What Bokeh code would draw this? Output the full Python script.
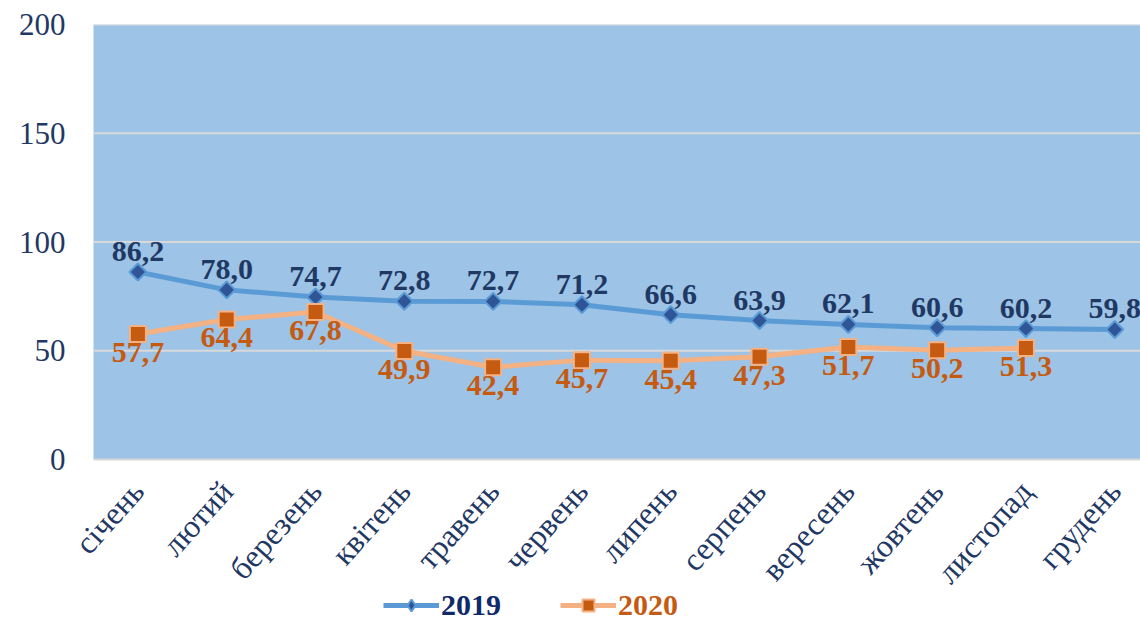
import math
from bokeh.plotting import figure
from bokeh.models import (ColumnDataSource, Range1d, FixedTicker, Legend, LegendItem,
                          BoxAnnotation)
from bokeh.core.properties import value
from bokeh.embed import file_html
from bokeh.resources import INLINE

months = ["січень", "лютий", "березень", "квітень", "травень", "червень",
          "липень", "серпень", "вересень", "жовтень", "листопад", "грудень"]
v2019 = [86.2, 78.0, 74.7, 72.8, 72.7, 71.2, 66.6, 63.9, 62.1, 60.6, 60.2, 59.8]
v2020 = [57.7, 64.4, 67.8, 49.9, 42.4, 45.7, 45.4, 47.3, 51.7, 50.2, 51.3]
y_ticks = [0, 50, 100, 150, 200]

FONT = "Liberation Serif"
NAVY = "#1F3864"
ORANGE = "#C55A11"
Y_MAX = 200
Y_MIN = -74          # white space below the plot area (labels and legend)
X_START = -0.759     # white space left of the plot area (room for rotated labels)
X_END = 11.29
AREA_LEFT = -0.5     # left edge of the blue plot area

def fmt(v):
    return f"{v:.1f}".replace(".", ",")

x19 = list(range(len(v2019)))
x20 = list(range(len(v2020)))
s19 = ColumnDataSource(dict(x=x19, y=v2019, t=[fmt(v) for v in v2019]))
s20 = ColumnDataSource(dict(x=x20, y=v2020, t=[fmt(v) for v in v2020]))
sgrid = ColumnDataSource(dict(y=y_ticks))

p = figure(width=1140, height=620, output_backend="svg", toolbar_location=None,
           x_range=Range1d(X_START, X_END), y_range=Range1d(Y_MIN, Y_MAX),
           min_border_left=70, min_border_right=0, min_border_top=24,
           min_border_bottom=0)
p.background_fill_color = "white"
p.border_fill_color = "white"
p.outline_line_color = None

p.add_layout(BoxAnnotation(bottom=0, top=Y_MAX, left=AREA_LEFT, fill_color="#9DC3E6",
                           fill_alpha=1, line_color=None, level="image"))

p.xgrid.grid_line_color = None
p.ygrid.grid_line_color = None
p.segment(x0=AREA_LEFT, x1=X_END, y0="y", y1="y", source=sgrid,
          line_color="#D9D9D9", line_width=2)

p.yaxis.ticker = FixedTicker(ticks=y_ticks)
p.xaxis.ticker = FixedTicker(ticks=x19)
p.xaxis.major_label_overrides = {i: m for i, m in enumerate(months)}
p.xaxis.major_label_orientation = 0.84
p.xaxis.fixed_location = 0

for ax in (p.xaxis, p.yaxis):
    ax.major_tick_line_color = None
    ax.minor_tick_line_color = None
    ax.major_tick_out = 0
    ax.major_tick_in = 0
    ax.axis_line_color = None
    ax.major_label_text_font = FONT
    ax.major_label_text_color = NAVY
p.yaxis.major_label_text_font_size = "31px"
p.xaxis.major_label_text_font_size = "32px"
p.yaxis.major_label_standoff = 5
p.xaxis.major_label_standoff = 26

l19 = p.line("x", "y", source=s19, line_color="#5B9BD5", line_width=5)
# diamond glyph used for the legend; covered by the rotated squares on the plot
leg19 = p.scatter("x", "y", source=s19, marker="diamond", size=16,
                  fill_color="#2F5597", line_color="#5B9BD5", line_width=2)
m19 = p.scatter("x", "y", source=s19, marker="square", angle=math.pi / 4, size=12,
                fill_color="#2F5597", line_color="#5B9BD5", line_width=2)
l20 = p.line("x", "y", source=s20, line_color="#F4B183", line_width=5)
m20 = p.scatter("x", "y", source=s20, marker="square", size=16,
                fill_color=ORANGE, line_color="#F4B183", line_width=2)

p.text("x", "y", text="t", source=s19, text_font=value(FONT), text_font_style="bold",
       text_font_size="30px", text_color=NAVY, text_align="center",
       text_baseline="bottom", y_offset=-11)
p.text("x", "y", text="t", source=s20, text_font=value(FONT), text_font_style="bold",
       text_font_size="30px", text_color=ORANGE, text_align="center",
       text_baseline="top", y_offset=9)

def mk_legend(label, rends, color, x):
    lg = Legend(items=[LegendItem(label=label, renderers=rends)], location=(x, -2),
                glyph_width=56, glyph_height=30, label_text_font=FONT,
                label_text_font_size="30px", label_text_font_style="bold",
                label_text_color=color, border_line_alpha=0,
                background_fill_alpha=0, padding=0, margin=0, spacing=0,
                label_standoff=2)
    p.add_layout(lg)

mk_legend("2019", [l19, leg19], "#0E2A6A", 313)
mk_legend("2020", [l20, m20], ORANGE, 490)

open("out.html", "w").write(file_html(p, INLINE))
